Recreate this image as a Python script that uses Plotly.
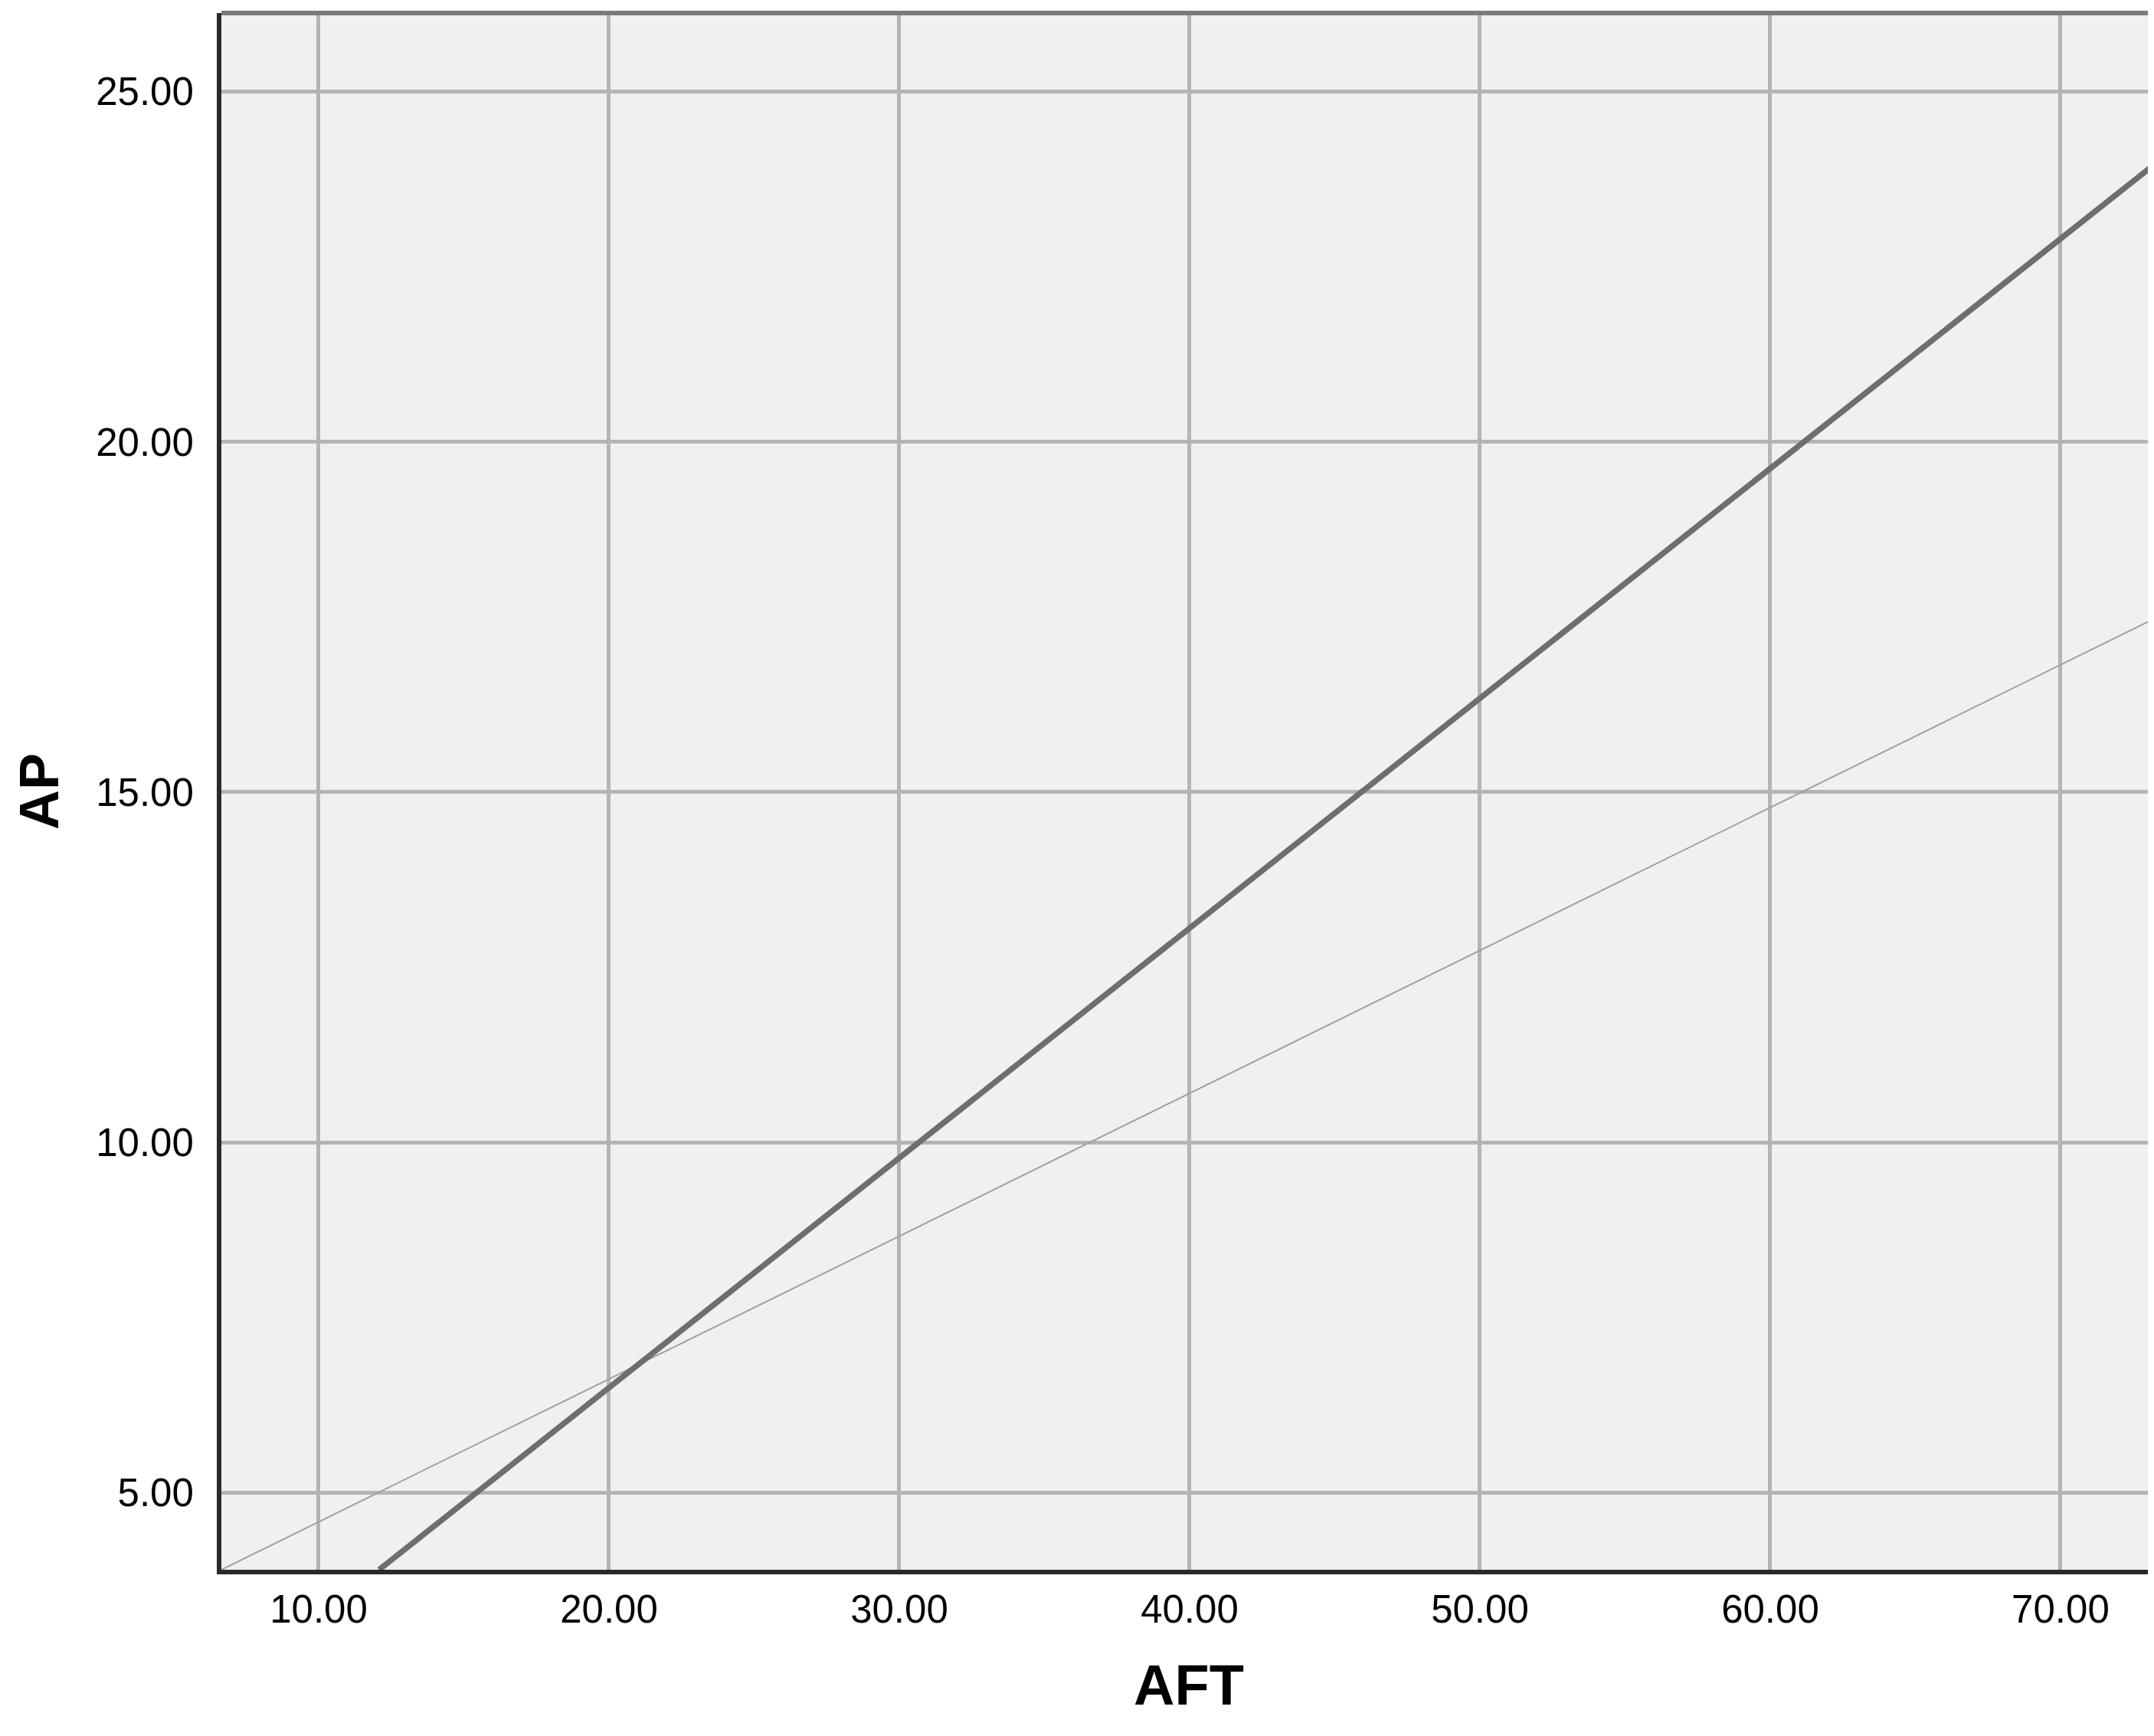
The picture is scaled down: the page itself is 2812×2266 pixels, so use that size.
import plotly.graph_objects as go

# Data
fit_x = [12.08, 73.3]
fit_y = [3.9, 23.98]
ref_x = [6.65, 73.3]
ref_y = [3.9, 17.49]

x_ticks = [10, 20, 30, 40, 50, 60, 70]
y_ticks = [5, 10, 15, 20, 25]
x_range = [6.65, 73.3]
y_range = [3.9, 26.12]

W, H = 2812, 2266
L, R, T, B = 281, 5, 9, 225

fig = go.Figure()
fig.add_trace(go.Scatter(x=ref_x, y=ref_y, mode="lines",
                         line=dict(color="#A0A0A0", width=2), showlegend=False))
fig.add_trace(go.Scatter(x=fit_x, y=fit_y, mode="lines",
                         line=dict(color="#6E6E6E", width=7.5), showlegend=False))

tick_font = dict(family="Liberation Sans, Arial, sans-serif", size=51, color="#000000")
fig.update_layout(
    width=W, height=H,
    margin=dict(l=L, r=R, t=T, b=B, pad=0),
    paper_bgcolor="#FFFFFF", plot_bgcolor="#F0F0F0",
    xaxis=dict(range=x_range, tickvals=x_ticks,
               ticktext=[f"{v:.2f}" for v in x_ticks],
               showgrid=True, gridcolor="#B4B4B4", gridwidth=4.5,
               zeroline=False, showline=True, linecolor="#2A2A2A", linewidth=6,
               ticks="", tickfont=tick_font, ticklabelstandoff=2),
    yaxis=dict(range=y_range, tickvals=y_ticks,
               ticktext=[f"{v:.2f}" for v in y_ticks],
               showgrid=True, gridcolor="#B4B4B4", gridwidth=4.5,
               zeroline=False, showline=True, linecolor="#2A2A2A", linewidth=6,
               ticks="", tickfont=tick_font, ticklabelstandoff=20),
    shapes=[dict(type="line", xref="paper", yref="paper", x0=0, x1=1, y0=1, y1=1,
                 line=dict(color="#7A7A7A", width=6))],
    annotations=[
        dict(text="<b>AFT</b>", xref="paper", yref="paper", x=0.5, y=0,
             xanchor="center", yanchor="middle", yshift=-150, showarrow=False,
             font=dict(family="Liberation Sans, Arial, sans-serif", size=74, color="#000000")),
        dict(text="<b>AP</b>", xref="paper", yref="paper", x=0, y=0.5,
             xanchor="center", yanchor="middle", xshift=-238, textangle=-90, showarrow=False,
             font=dict(family="Liberation Sans, Arial, sans-serif", size=72, color="#000000")),
    ],
)

fig.write_html("out.html")
